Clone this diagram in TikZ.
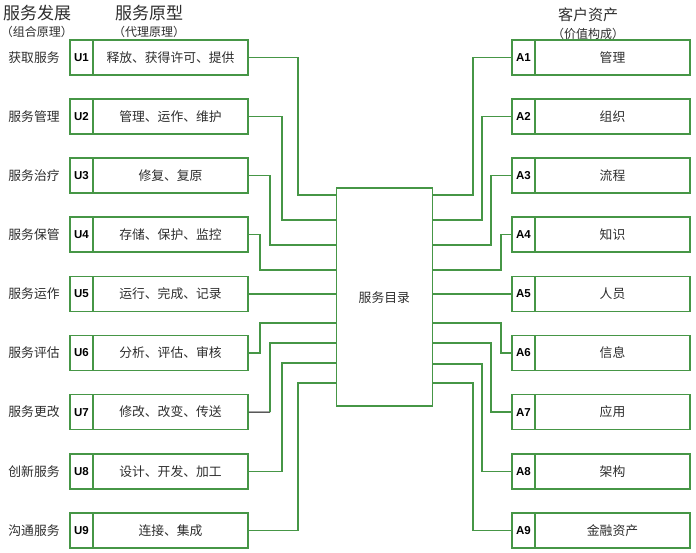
\documentclass[tikz,border=0pt]{standalone}
\usepackage{fontspec}
\setmainfont{Noto Sans CJK SC}
\newfontfamily\latinb{Liberation Sans}
\definecolor{gline}{RGB}{70,150,70}
\definecolor{txt}{RGB}{45,45,45}
\begin{document}
\begin{tikzpicture}[x=1pt,y=-1pt,
  conn/.style={draw=gline,line width=1.3pt},
  lab/.style={draw=gline,line width=1.6pt,minimum width=23pt,minimum height=35pt,inner sep=0pt,font=\latinb\fontsize{11.5}{12}\selectfont\bfseries,text=black},
  cont/.style={draw=gline,line width=1.6pt,minimum width=155pt,minimum height=35pt,inner sep=0pt,font=\fontsize{12.8}{13}\selectfont,text=txt},
  side/.style={font=\fontsize{12.8}{13}\selectfont,text=txt},
  head/.style={font=\fontsize{17}{18}\selectfont,text=txt},
  sub/.style={font=\fontsize{12}{12}\selectfont,text=txt}]
\useasboundingbox (0,0) rectangle (696,553);
% headers
\node[head] (h1) at (37,13) {服务发展};
\node[sub] (s1) at (37,32) {（组合原理）};
\node[head] (h2) at (149,13) {服务原型};
\node[sub] (s2) at (149,32) {（代理原理）};
\node[head,font=\fontsize{15}{16}\selectfont] (h3) at (588,15) {客户资产};
\node[sub] (s3) at (588,34) {（价值构成）};
% center box
\node[draw=gline,line width=1.6pt,minimum width=96pt,minimum height=218pt,inner sep=0pt,font=\fontsize{12.8}{13}\selectfont,text=txt] (cat) at (384.3,297.2) {服务目录};
% left and right rows
\foreach \i/\side/\utext/\atext in {
  1/获取服务/释放、获得许可、提供/管理,
  2/服务管理/管理、运作、维护/组织,
  3/服务治疗/修复、复原/流程,
  4/服务保管/存储、保护、监控/知识,
  5/服务运作/运行、完成、记录/人员,
  6/服务评估/分析、评估、审核/信息,
  7/服务更改/修改、改变、传送/应用,
  8/创新服务/设计、开发、加工/架构,
  9/沟通服务/连接、集成/金融资产}{
  \pgfmathsetmacro{\yc}{57.5+59.1*(\i-1)}
  \node[side] (L\i) at (34,\yc) {\side};
  \node[lab] (U\i) at (81.5,\yc) {U\i};
  \node[cont] (Uc\i) at (170.5,\yc) {\utext};
  \node[lab] (A\i) at (523.5,\yc) {A\i};
  \node[cont] (Ac\i) at (612.5,\yc) {\atext};
}
% left connectors
\foreach \i/\xv/\yin in {1/298/195,2/282/220,3/270/245,4/260/270,6/260/323,8/282/363,9/298/383}{
  \draw[conn] (Uc\i.east) -| (\xv,\yin) -- (cat.west |- {(0,\yin)});
}
\draw[conn] (Uc5.east) -- (cat.west |- Uc5.east);
\coordinate (k7) at (270,412.1);
\draw[black,line width=1.2pt] (Uc7.east) -- (k7);
\draw[conn] (k7) -- (270,343) -- (cat.west |- {(0,343)});
% right connectors
\foreach \i/\xv/\yin in {1/473/195,2/482/220,3/491/245,4/501/270,6/501/323,7/491/343,8/482/364,9/473/383}{
  \draw[conn] (A\i.west) -| (\xv,\yin) -- (cat.east |- {(0,\yin)});
}
\draw[conn] (A5.west) -- (cat.east |- A5.west);
\end{tikzpicture}
\end{document}
